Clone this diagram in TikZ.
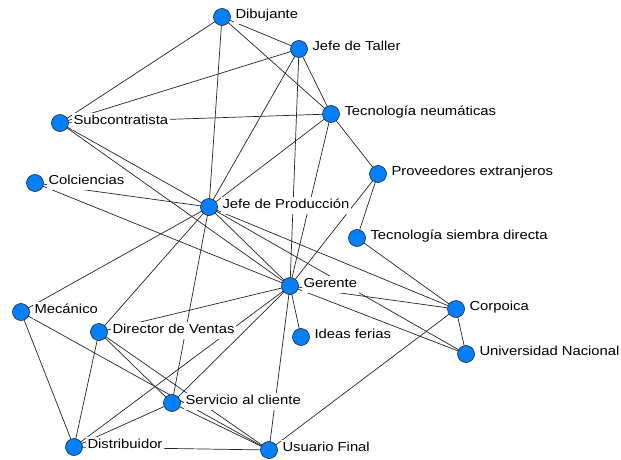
\documentclass[tikz,border=0pt]{standalone}
\usepackage{fontspec}
\setmainfont{Liberation Sans}
\newfontfamily\tagfont[FakeStretch=1.14]{Liberation Sans}
\definecolor{actorblue}{RGB}{0,128,255}
\pgfdeclarelayer{paper}
\pgfdeclarelayer{links}
\pgfsetlayers{paper,links,main}
\begin{document}
\begin{tikzpicture}[x=1pt,y=-1pt,
  actor/.style={circle,fill=actorblue,draw=black!85,line width=0.6pt,
    minimum size=17pt,inner sep=0pt,
    label={[tag]right:#1}},
  tag/.style={fill=white,inner xsep=1.5pt,inner ysep=2.5pt,
    label distance=3pt,yshift=1.8pt,
    font=\tagfont\fontsize{13}{13}\selectfont,
    text height=9.5pt,text depth=2.5pt},
  tie/.style={draw=black!85,line width=0.7pt}]
\useasboundingbox (0,0) rectangle (621,460);
\begin{pgfonlayer}{paper}
  \fill[white] (0,0) rectangle (621,460);
\end{pgfonlayer}

% actors of the network
\node[actor=Dibujante]                  (dib)  at (222,17)  {};
\node[actor=Jefe de Taller]             (jt)   at (299,49)  {};
\node[actor=Tecnología neumáticas]      (tn)   at (331,114) {};
\node[actor=Subcontratista]             (sub)  at (60,123)  {};
\node[actor=Colciencias]                (col)  at (35,183)  {};
\node[actor=Proveedores extranjeros]    (pe)   at (378,174) {};
\node[actor=Jefe de Producción]         (jp)   at (209,207) {};
\node[actor=Tecnología siembra directa] (tsd)  at (357,238) {};
\node[actor=Gerente]                    (ger)  at (290,286) {};
\node[actor=Corpoica]                   (cor)  at (456,309) {};
\node[actor=Mecánico]                   (mec)  at (21,312)  {};
\node[actor=Director de Ventas]         (dv)   at (99,332)  {};
\node[actor=Ideas ferias]               (idf)  at (301,337) {};
\node[actor=Universidad Nacional]       (un)   at (466,354) {};
\node[actor=Servicio al cliente]        (sc)   at (172,403) {};
\node[actor=Distribuidor]               (dis)  at (74,447)  {};
\node[actor=Usuario Final]              (uf)   at (269,450) {};

% relations, drawn underneath nodes and their labels
\begin{pgfonlayer}{links}
\foreach \a/\b in {dib/jt, dib/sub, dib/jp, dib/tn,
                   jt/sub, jt/tn, jt/jp, jt/ger,
                   sub/tn, tn/jp, tn/ger, tn/pe,
                   sub/jp, sub/ger, col/jp, col/ger,
                   jp/mec, jp/dv, jp/sc, jp/ger, jp/cor, jp/un,
                   pe/ger, pe/tsd, tsd/cor,
                   ger/cor, ger/un, ger/idf, ger/uf, ger/sc, ger/dis, ger/dv,
                   cor/un, cor/uf,
                   mec/dis, mec/uf,
                   dv/dis, dv/sc, dv/uf,
                   sc/dis, sc/uf, dis/uf}
  \draw[tie] (\a.center) -- (\b.center);
\end{pgfonlayer}
\end{tikzpicture}
\end{document}
